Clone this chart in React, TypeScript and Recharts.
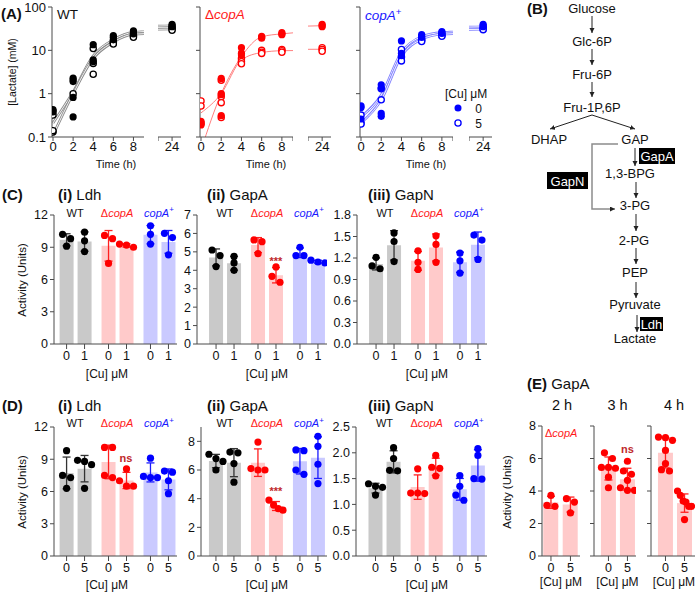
import React from "react";
import { ComposedChart, Bar, Scatter, Line, XAxis, YAxis, ErrorBar, Cell } from "recharts";

const FONT = "'Liberation Sans', Arial, Helvetica, sans-serif";
const AXIS = "#4a4a4a";
const INK = "#111";
const RED = "#ff1a1a";
const BLUE = "#1a1aff";
const MARK = "#c0292b";

// ---------- (A) lactate (mM) per time point, replicates ----------
const hours = [0, 2, 4, 6, 8, 24];

const wt0 = [[0.43, 0.4, 0.38], [2.3, 2.1, 1.9, 0.82, 0.29], [13.5, 6.0, 5.5], [22, 20, 17.5], [28, 26, 24], [40, 37, 35]];
const wt5 = [[0.32, 0.13, 0.14], [1.0], [11, 5.0, 2.8], [16, 15, 14], [23, 21.5, 20], [33, 31, 29]];
const wtFit0 = [0.21, 1.1, 7.5, 17.5, 26, 37];
const wtFit5 = [0.11, 1.0, 6.5, 15.5, 23.5, 31];

const dcopA0 = [[0.23, 0.2, 0.19], [2.25, 1.0, 0.95, 0.31], [11.5, 8.6, 7.8], [21, 20, 19], [25.5, 24, 23], [40, 37, 35]];
const dcopA5 = [[0.68, 0.52, 0.21], [2.05, 0.85, 0.62, 0.28], [6.5, 5.5, 4.9], [10, 9, 8.5], [10.5, 9.8, 9], [11.5, 10.5, 9.5]];
const dcopAFit0 = [0.05, 1.0, 7.2, 20.5, 24, 37];
const dcopAFit5 = [0.36, 1.0, 6.0, 8.9, 9.8, 10.6];

const copA0 = [[0.52, 0.48, 0.26], [1.6, 1.35, 0.35, 0.3], [16.5, 8.5, 7.5], [23, 21, 20], [27, 25.5, 24.5], [40, 37, 35]];
const copA5 = [[0.32, 0.21, 0.2], [1.3, 0.72], [10.5, 7.0, 5.7], [18, 17, 16], [23, 22, 21], [33, 31, 30]];
const copAFit0 = [0.29, 0.93, 8.9, 20.7, 25.6, 35];
const copAFit5 = [0.21, 0.72, 7.4, 18, 23.5, 30.6];

// ---------- (C)/(D)/(E) activity (Units), [strain][Cu][replicate] ----------
const strains = ["WT", "dcopA", "copA"];
const cuC = ["0", "1"];
const cuD = ["0", "5"];

const ldhC = [[[10.2, 9.1, 9.8], [10.4, 9.6, 8.6]], [[10.1, 7.5, 9.8], [9.0, 9.3, 9.2]], [[11.0, 10.2, 9.3], [10.3, 9.9, 8.3]]];
const gapAC = [[[5.1, 4.8, 4.2], [4.75, 4.4, 4.0]], [[5.65, 5.55, 4.9], [4.18, 3.67, 3.35]], [[5.25, 4.8, 4.8], [4.55, 4.45, 4.4]]];
const gapNC = [[[1.21, 1.09, 1.05], [1.55, 1.43, 1.15]], [[1.3, 1.14, 1.04], [1.51, 1.39, 1.14]], [[1.27, 1.16, 0.99], [1.52, 1.45, 1.18]]];

const ldhD = [[[9.8, 7.5, 7.3, 6.3], [8.9, 8.8, 8.5, 6.3]], [[10.1, 10.1, 7.5, 7.3], [8.1, 7.0, 6.5, 6.5]], [[9.1, 7.4, 7.3, 7.3], [7.9, 7.8, 7.0, 5.8]]];
const gapAD = [[[7.1, 6.8, 6.6, 6.0], [7.25, 7.2, 6.45, 5.15]], [[7.95, 6.1, 6.0, 6.0], [3.9, 3.55, 3.3, 3.2]], [[7.4, 7.35, 6.0, 5.7], [8.35, 7.65, 6.4, 5.05]]];
const gapND = [[[1.4, 1.35, 1.33, 1.18], [2.1, 1.89, 1.66, 1.65]], [[1.69, 1.22, 1.21, 1.22], [1.95, 1.72, 1.7, 1.55]], [[1.56, 1.35, 1.18, 1.08], [2.08, 1.95, 1.5, 1.49]]];

const gapA2h = [[[3.73, 3.12, 3.06], [3.53, 3.32, 2.65]]];
const gapA3h = [[[6.35, 6.0, 5.45, 5.45, 5.4, 4.85, 4.2], [5.83, 5.23, 5.03, 4.66, 4.2, 4.04, 4.04]]];
const gapA4h = [[[7.32, 7.28, 7.12, 6.5, 5.68, 5.31, 5.23], [4.0, 3.73, 3.38, 3.32, 3.06, 3.06, 2.24]]];

const STYLE: Record<string, { dot: string; err: string; bar: string }> = {
  WT: { dot: "#000", err: "#333", bar: "#c9c9c9" },
  dcopA: { dot: "#ff0000", err: "#ff2020", bar: "#ffcaca" },
  copA: { dot: "#0000ff", err: "#1a1aff", bar: "#cacaff" },
};

const mean = (a: number[]) => a.reduce((s, v) => s + v, 0) / a.length;
const sd = (a: number[]) => {
  const m = mean(a);
  return Math.sqrt(a.reduce((s, v) => s + (v - m) ** 2, 0) / (a.length - 1));
};

// spread overlapping replicate dots sideways (px offsets), like a column scatter
function spread(vals: number[], pxPerUnit: number) {
  const order = vals.map((_, i) => i).sort((a, b) => vals[b] - vals[a]);
  const off = vals.map(() => 0);
  let cl: number[] = [];
  const flush = () => {
    const k = cl.length;
    const gap = k > 1 ? Math.min(8, 14 / (k - 1)) : 0;
    cl.forEach((id, j) => (off[id] = (j - (k - 1) / 2) * gap));
    cl = [];
  };
  order.forEach((id) => {
    if (cl.length && (vals[cl[cl.length - 1]] - vals[id]) * pxPerUnit >= 6) flush();
    cl.push(id);
  });
  flush();
  return off;
}

const tickStyle = (size: number) => ({ fontSize: size, fill: INK, fontFamily: FONT });

function Strain({ k, x, y, size = 11, anchor = "middle" }: any) {
  if (k === "WT")
    return <text x={x} y={y} fontSize={size} textAnchor={anchor} fill={INK}>WT</text>;
  if (k === "dcopA")
    return (
      <text x={x} y={y} fontSize={size} textAnchor={anchor} fill={RED}>
        Δ<tspan fontStyle="italic">copA</tspan>
      </text>
    );
  return (
    <text x={x} y={y} fontSize={size} textAnchor={anchor} fill={BLUE}>
      <tspan fontStyle="italic">copA</tspan>
      <tspan dy={-size * 0.4} fontSize={size * 0.72}>+</tspan>
    </text>
  );
}

const filled = (c: string) => (p: any) => <circle cx={p.cx} cy={p.cy} r={3.6} fill={c} />;
const open = (c: string) => (p: any) => <circle cx={p.cx} cy={p.cy} r={3.1} fill="#fff" stroke={c} strokeWidth={1.3} />;

function LactatePanel({ axisX, mainEnd, segStart, cu0, cu5, fit0, fit5, color, lineColor, hollow, showY }: any) {
  const top = 7, bottom = 137, xH = 24, yW = 44, mTop = 8;
  const pxH = (mainEnd - axisX) / 9.2;
  const lines = hours.map((t, i) => ({ t, f0: fit0[i], f5: fit5[i] }));
  const pts = (reps: number[][], late: boolean) =>
    hours.flatMap((t, i) => reps[i].map((v) => ({ t, v }))).filter((p) => (late ? p.t > 20 : p.t < 20));
  const yAxis = (w: number) => (
    <YAxis type="number" scale="log" domain={[0.1, 100]} allowDataOverflow ticks={[0.1, 1, 10, 100]} interval={0}
      width={w} hide={w === 0} tickSize={4} tickMargin={2} stroke={AXIS} tick={tickStyle(13)}
      tickFormatter={(v: number) => (showY ? String(v) : "")} />
  );
  const lineEls = ["f0", "f5"].flatMap((k) =>
    hollow
      ? [
          <Line key={k + "o"} dataKey={k} type="monotone" stroke={lineColor} strokeWidth={2.6} dot={false} isAnimationActive={false} />,
          <Line key={k + "i"} dataKey={k} type="monotone" stroke="#fff" strokeWidth={0.9} dot={false} isAnimationActive={false} />,
        ]
      : [<Line key={k} dataKey={k} type="monotone" stroke={lineColor} strokeWidth={1} dot={false} isAnimationActive={false} />]
  );
  const h = bottom - top + mTop + xH;
  return (
    <>
      <div style={{ position: "absolute", left: axisX - yW, top: top - mTop }}>
        <ComposedChart width={mainEnd - axisX + yW} height={h} data={lines} margin={{ top: mTop, right: 0, bottom: 0, left: 0 }}>
          <XAxis dataKey="t" type="number" domain={[-0.1, 9.1]} allowDataOverflow ticks={[0, 2, 4, 6, 8, 9.1]} interval={0}
            height={xH} tickSize={4} tickMargin={1} stroke={AXIS} tick={tickStyle(13)}
            tickFormatter={(v: number) => (v > 8.5 ? "" : String(v))} />
          {yAxis(yW)}
          {lineEls}
          <Scatter data={pts(cu5, false)} dataKey="v" shape={open(color)} isAnimationActive={false} />
          <Scatter data={pts(cu0, false)} dataKey="v" shape={filled(color)} isAnimationActive={false} />
        </ComposedChart>
      </div>
      <div style={{ position: "absolute", left: segStart, top: top - mTop }}>
        <ComposedChart width={2.3 * pxH} height={h} data={lines} margin={{ top: mTop, right: 0, bottom: 0, left: 0 }}>
          <XAxis dataKey="t" type="number" domain={[22.6, 24.9]} allowDataOverflow ticks={[22.6, 24]} interval={0}
            height={xH} tickSize={4} tickMargin={1} stroke={AXIS} tick={tickStyle(13)}
            tickFormatter={(v: number) => (v === 24 ? "24" : "")} />
          {yAxis(0)}
          {lineEls}
          <Scatter data={pts(cu5, true)} dataKey="v" shape={open(color)} isAnimationActive={false} />
          <Scatter data={pts(cu0, true)} dataKey="v" shape={filled(color)} isAnimationActive={false} />
        </ComposedChart>
      </div>
    </>
  );
}

function ActivityPanel({ axisX, top, bottom, right, xMin, xMax, yMax, yTicks, fmt, groups, keys, cu, headerY, marks = [], barSize = 14, step = 7 / 3 }: any) {
  const yW = 40, xH = 32, mTop = 8;
  const unitPx = (right - axisX) / (xMax - xMin);
  const pxY = (bottom - top) / yMax;
  const rows: any[] = [];
  groups.forEach((g: number[][], gi: number) =>
    g.forEach((vals, ci) => rows.push({ x: gi * step + ci, mean: mean(vals), sd: sd(vals), key: keys[gi], vals, gi, ci }))
  );
  const ticks = rows.map((r) => r.x);
  const dotsOf = (k: string) =>
    rows.filter((r) => r.key === k).flatMap((r) => {
      const off = spread(r.vals, pxY);
      return r.vals.map((v: number, i: number) => ({ x: r.x + off[i] / unitPx, y: v }));
    });
  const xPx = (x: number) => axisX + (x - xMin) * unitPx;
  return (
    <>
      <div style={{ position: "absolute", left: axisX - yW, top: top - mTop }}>
        <ComposedChart width={right - axisX + yW} height={bottom - top + mTop + xH} data={rows} margin={{ top: mTop, right: 0, left: 0, bottom: 0 }}>
          <XAxis dataKey="x" type="number" domain={[xMin, xMax]} allowDataOverflow ticks={ticks} interval={0}
            height={xH} tickSize={5} tickMargin={2} stroke={AXIS} tick={tickStyle(12.5)}
            tickFormatter={(v: number, i: number) => cu[i % 2]} />
          <XAxis xAxisId="dots" dataKey="x" type="number" domain={[xMin, xMax]} allowDataOverflow hide height={0} />
          <YAxis type="number" domain={[0, yMax]} allowDataOverflow ticks={yTicks} interval={0} width={yW}
            tickSize={4} tickMargin={2} stroke={AXIS} tick={tickStyle(12.5)} tickFormatter={fmt} />
          <Bar dataKey="mean" barSize={barSize} isAnimationActive={false}>
            {rows.map((r, i) => <Cell key={i} fill={STYLE[r.key].bar} />)}
          </Bar>
          {keys.map((k: string) => (
            <Scatter key={"e" + k} data={rows.filter((r) => r.key === k)} dataKey="mean" shape={() => <g />} isAnimationActive={false}>
              <ErrorBar dataKey="sd" direction="y" width={4} stroke={STYLE[k].err} strokeWidth={1.3} isAnimationActive={false} />
            </Scatter>
          ))}
          {keys.map((k: string) => (
            <Scatter key={"d" + k} xAxisId="dots" data={dotsOf(k)} dataKey="y" shape={filled(STYLE[k].dot)} isAnimationActive={false} />
          ))}
        </ComposedChart>
      </div>
      <svg width={700} height={592} style={{ position: "absolute", left: 0, top: 0, pointerEvents: "none" }} fontFamily={FONT}>
        {headerY != null && keys.map((k: string, gi: number) => <Strain key={k} k={k} x={xPx(gi * step + 0.5)} y={headerY} />)}
        {marks.map((m: any, i: number) => (
          <text key={i} x={xPx(m.g * step + m.c)} y={m.y} fontSize={11} fontWeight="bold" textAnchor="middle" fill={MARK}>{m.text}</text>
        ))}
      </svg>
    </>
  );
}

function T({ x, y, s = 12, a = "start", w = "normal", f = INK, r, children }: any) {
  return (
    <text x={x} y={y} fontSize={s} textAnchor={a} fontWeight={w} fill={f} transform={r ? `rotate(${r} ${x} ${y})` : undefined}>
      {children}
    </text>
  );
}

function Arrow({ x1, y1, x2, y2, c = "#222" }: any) {
  return <line x1={x1} y1={y1} x2={x2} y2={y2} stroke={c} strokeWidth={1} markerEnd="url(#ah)" />;
}

function Pathway() {
  const a = 592, b = 636;
  return (
    <g fontSize={13} fill={INK}>
      <T x={527} y={13.5} s={15} w="bold">(B)</T>
      <T x={a} y={12.5} s={13} a="middle">Glucose</T>
      <Arrow x1={a} y1={16} x2={a} y2={33} />
      <T x={a} y={45.7} s={13} a="middle">Glc-6P</T>
      <Arrow x1={a} y1={49} x2={a} y2={65} />
      <T x={a} y={79} s={13} a="middle">Fru-6P</T>
      <Arrow x1={a} y1={82} x2={a} y2={97} />
      <T x={a} y={111.5} s={13} a="middle">Fru-1P,6P</T>
      <Arrow x1={a} y1={115} x2={550} y2={129} />
      <Arrow x1={a} y1={115} x2={635} y2={129} />
      <T x={549} y={144} s={13} a="middle">DHAP</T>
      <T x={635} y={144} s={13} a="middle">GAP</T>
      <polyline points="618,144 592,144 592,209 615,209" fill="none" stroke="#8c8c8c" strokeWidth={1.5} markerEnd="url(#ah)" />
      <Arrow x1={b - 1} y1={148} x2={b - 1} y2={166} />
      <rect x={639} y={148} width={36} height={16} fill="#000" />
      <T x={657} y={161} s={13} a="middle" f="#fff">GapA</T>
      <rect x={547} y={172} width={41} height={17} fill="#000" />
      <T x={567.5} y={185.5} s={13} a="middle" f="#fff">GapN</T>
      <T x={630} y={178} s={13} a="middle">1,3-BPG</T>
      <Arrow x1={b} y1={182} x2={b} y2={198} />
      <T x={635} y={210} s={13} a="middle">3-PG</T>
      <Arrow x1={b} y1={214} x2={b} y2={231} />
      <T x={634} y={245} s={13} a="middle">2-PG</T>
      <Arrow x1={b} y1={248} x2={b} y2={264} />
      <T x={635} y={277} s={13} a="middle">PEP</T>
      <Arrow x1={b} y1={282} x2={b} y2={298} />
      <T x={635} y={309} s={13} a="middle">Pyruvate</T>
      <Arrow x1={b + 1} y1={315} x2={b + 1} y2={332} />
      <rect x={640} y={317} width={23} height={14} fill="#000" />
      <T x={651.5} y={328.5} s={13} a="middle" f="#fff">Ldh</T>
      <T x={635} y={343} s={13} a="middle">Lactate</T>
    </g>
  );
}

const f0 = (v: number) => String(v);
const f1 = (v: number) => v.toFixed(1);
const none = () => "";

export default function App() {
  return (
    <div style={{ position: "absolute", left: 0, top: 0, width: 700, height: 592, background: "#fff", fontFamily: FONT, overflow: "hidden" }}>
      {/* (A) */}
      <LactatePanel axisX={51.5} mainEnd={144} segStart={158} cu0={wt0} cu5={wt5} fit0={wtFit0} fit5={wtFit5}
        color="#000" lineColor="#8a8a8a" hollow showY />
      <LactatePanel axisX={200} mainEnd={293} segStart={308} cu0={dcopA0} cu5={dcopA5} fit0={dcopAFit0} fit5={dcopAFit5}
        color="#ff0000" lineColor="#ff8080" />
      <LactatePanel axisX={360} mainEnd={453} segStart={469} cu0={copA0} cu5={copA5} fit0={copAFit0} fit5={copAFit5}
        color="#0000ff" lineColor="#8080ff" hollow />

      {/* (C) */}
      <ActivityPanel axisX={53.5} top={215} bottom={344} right={177} xMin={-0.7} xMax={6.17} yMax={12} yTicks={[0, 3, 6, 9, 12]} fmt={f0}
        groups={ldhC} keys={strains} cu={cuC} headerY={216.5} />
      <ActivityPanel axisX={197} top={215} bottom={344} right={327} xMin={-1.06} xMax={6.17} yMax={7} yTicks={[0, 1, 2, 3, 4, 5, 6, 7]} fmt={f0}
        groups={gapAC} keys={strains} cu={cuC} headerY={216.5} marks={[{ g: 1, c: 1, text: "***", y: 265 }]} />
      <ActivityPanel axisX={357} top={215} bottom={344} right={487} xMin={-1.06} xMax={6.17} yMax={1.8} yTicks={[0, 0.3, 0.6, 0.9, 1.2, 1.5, 1.8]} fmt={f1}
        groups={gapNC} keys={strains} cu={cuC} headerY={216.5} />

      {/* (D) */}
      <ActivityPanel axisX={53.5} top={427} bottom={556} right={177} xMin={-0.7} xMax={6.17} yMax={12} yTicks={[0, 3, 6, 9, 12]} fmt={f0}
        groups={ldhD} keys={strains} cu={cuD} headerY={427} marks={[{ g: 1, c: 1, text: "ns", y: 462 }]} />
      <ActivityPanel axisX={201} top={427} bottom={556} right={327} xMin={-0.83} xMax={6.17} yMax={9} yTicks={[0, 2, 4, 6, 8]} fmt={f0}
        groups={gapAD} keys={strains} cu={cuD} headerY={427} marks={[{ g: 1, c: 1, text: "***", y: 495 }]} />
      <ActivityPanel axisX={356} top={427} bottom={556} right={487} xMin={-1.08} xMax={6.17} yMax={2.5} yTicks={[0, 0.5, 1, 1.5, 2, 2.5]} fmt={f1}
        groups={gapND} keys={strains} cu={cuD} headerY={427} />

      {/* (E) */}
      <ActivityPanel axisX={542} top={426} bottom={556} right={580} xMin={-0.46} xMax={1.49} step={1} barSize={15} yMax={8} yTicks={[0, 2, 4, 6, 8]} fmt={f0}
        groups={gapA2h} keys={["dcopA"]} cu={cuD} />
      <ActivityPanel axisX={594} top={426} bottom={556} right={636} xMin={-0.76} xMax={1.45} step={1} barSize={15} yMax={8} yTicks={[0, 2, 4, 6, 8]} fmt={none}
        groups={gapA3h} keys={["dcopA"]} cu={cuD} marks={[{ g: 0, c: 1, text: "ns", y: 453 }]} />
      <ActivityPanel axisX={651} top={426} bottom={556} right={695} xMin={-0.76} xMax={1.55} step={1} barSize={15} yMax={8} yTicks={[0, 2, 4, 6, 8]} fmt={none}
        groups={gapA4h} keys={["dcopA"]} cu={cuD} />

      <svg width={700} height={592} style={{ position: "absolute", left: 0, top: 0, pointerEvents: "none" }} fontFamily={FONT}>
        <defs>
          <marker id="ah" markerUnits="userSpaceOnUse" markerWidth={6} markerHeight={6} refX={5} refY={2.5} orient="auto">
            <path d="M0,0 L5,2.5 L0,5 z" fill="#222" />
          </marker>
        </defs>
        {/* A texts */}
        <T x={1} y={19} s={15} w="bold">(A)</T>
        <T x={57} y={18.5} s={13.5}>WT</T>
        <Strain k="dcopA" x={205} y={19} size={13.5} anchor="start" />
        <Strain k="copA" x={365} y={20} size={13.5} anchor="start" />
        <T x={16} y={72} s={10.5} a="middle" r={-90}>[Lactate] (mM)</T>
        <T x={116} y={168} s={11} a="middle">Time (h)</T>
        <T x={266} y={168} s={11} a="middle">Time (h)</T>
        <T x={426} y={168} s={11} a="middle">Time (h)</T>
        <T x={445} y={98} s={12}>[Cu] μM</T>
        <circle cx={458} cy={108} r={3.5} fill="#0000ff" />
        <T x={478.5} y={112.5} s={12} a="middle">0</T>
        <circle cx={458} cy={123} r={3.1} fill="#fff" stroke="#0000ff" strokeWidth={1.3} />
        <T x={478.5} y={127.5} s={12} a="middle">5</T>

        <Pathway />

        {/* C texts */}
        <T x={2} y={200} s={15} w="bold">(C)</T>
        <text x={58} y={200} fontSize={15} fill={INK}><tspan fontWeight="bold">(i)</tspan> Ldh</text>
        <text x={207} y={200} fontSize={15} fill={INK}><tspan fontWeight="bold">(ii)</tspan> GapA</text>
        <text x={368} y={200} fontSize={15} fill={INK}><tspan fontWeight="bold">(iii)</tspan> GapN</text>
        <T x={26} y={280} s={11.5} a="middle" r={-90}>Activity (Units)</T>
        <T x={107} y={377.5} s={12} a="middle">[Cu] μM</T>
        <T x={267} y={377.5} s={12} a="middle">[Cu] μM</T>
        <T x={427} y={377.5} s={12} a="middle">[Cu] μM</T>

        {/* D texts */}
        <T x={2} y={411} s={15} w="bold">(D)</T>
        <text x={58} y={411} fontSize={15} fill={INK}><tspan fontWeight="bold">(i)</tspan> Ldh</text>
        <text x={207} y={411} fontSize={15} fill={INK}><tspan fontWeight="bold">(ii)</tspan> GapA</text>
        <text x={368} y={411} fontSize={15} fill={INK}><tspan fontWeight="bold">(iii)</tspan> GapN</text>
        <T x={26} y={492} s={11.5} a="middle" r={-90}>Activity (Units)</T>
        <T x={107} y={589} s={12} a="middle">[Cu] μM</T>
        <T x={267} y={589} s={12} a="middle">[Cu] μM</T>
        <T x={427} y={589} s={12} a="middle">[Cu] μM</T>

        {/* E texts */}
        <text x={527} y={389} fontSize={15} fill={INK}><tspan fontWeight="bold">(E)</tspan> GapA</text>
        <T x={562} y={410} s={14.5} a="middle">2 h</T>
        <T x={617.5} y={410} s={14.5} a="middle">3 h</T>
        <T x={674} y={410} s={14.5} a="middle">4 h</T>
        <Strain k="dcopA" x={545} y={437} size={11} anchor="start" />
        <T x={511} y={492} s={11.5} a="middle" r={-90}>Activity (Units)</T>
        <T x={561} y={586} s={12} a="middle">[Cu] μM</T>
        <T x={617.5} y={586} s={12} a="middle">[Cu] μM</T>
        <T x={674} y={586} s={12} a="middle">[Cu] μM</T>
      </svg>
    </div>
  );
}
